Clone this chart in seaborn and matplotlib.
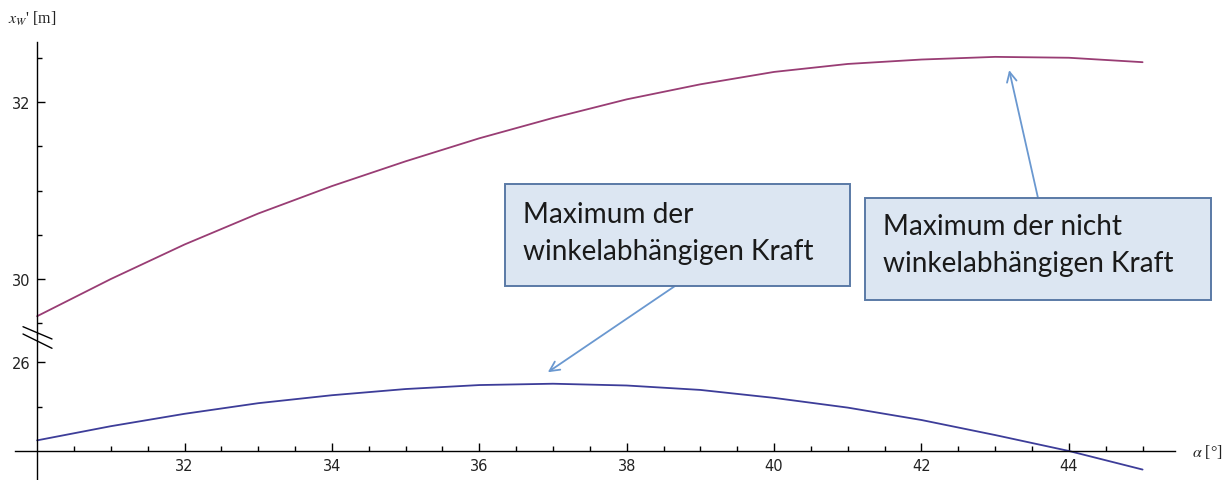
import matplotlib.pyplot as plt
from matplotlib.lines import Line2D
from matplotlib.patches import Rectangle
from matplotlib.ticker import FixedLocator
import seaborn as sns

# alpha in degrees
alpha_deg = [30, 31, 32, 33, 34, 35, 36, 37, 38, 39, 40, 41, 42, 43, 44, 45]
# upper curve: maximum of the angle independent force
xw_nicht_winkel = [29.58, 30.00, 30.39, 30.74, 31.05, 31.33, 31.59, 31.82,
                   32.03, 32.20, 32.34, 32.43, 32.48, 32.51, 32.50, 32.45]
# lower curve: maximum of the angle dependent force
xw_winkel = [25.12, 25.28, 25.42, 25.54, 25.63, 25.70, 25.745, 25.76,
             25.74, 25.69, 25.60, 25.49, 25.35, 25.18, 25.00, 24.79]

x_major = [32, 34, 36, 38, 40, 42, 44]
x_minor = [30.5, 31, 31.5, 32.5, 33, 33.5, 34.5, 35, 35.5, 36.5, 37, 37.5,
           38.5, 39, 39.5, 40.5, 41, 41.5, 42.5, 43, 43.5, 44.5, 45]
y_top_major = [30, 32]
y_top_minor = [29.5, 30.5, 31, 31.5, 32.5]
y_bot_major = [26]
y_bot_minor = [25.5]

W, H = 1230, 481
BLUE = '#3D3D99'
PINK = '#993D74'
BOX_FILL = '#DCE6F2'
BOX_EDGE = '#5A7AA6'
ARROW = '#6A98D0'


def px_rect(left, top, right, bottom):
    """
    convert a pixel box (origin top left) into figure fractions
    """
    return [left / W, 1 - bottom / H, (right - left) / W, (bottom - top) / H]


def style_axis(ax) -> None:
    ax.set_facecolor('none')
    ax.spines['top'].set_visible(False)
    ax.spines['right'].set_visible(False)
    ax.spines['left'].set_position(('data', 30))
    for sp in ax.spines.values():
        sp.set_color('black')
        sp.set_linewidth(1.0)
    ax.tick_params(which='both', direction='in', color='black', width=1.0,
                   labelsize=10.5, labelcolor='#222222',
                   left=True, bottom=True)
    ax.tick_params(which='major', length=6)
    ax.tick_params(which='minor', length=3.8)
    ax.tick_params(axis='y', pad=5)
    ax.tick_params(axis='x', pad=5)
    ax.set_xlabel('')
    ax.set_ylabel('')
    ax.grid(False)


sns.set_style('white')
plt.rcParams['font.family'] = ['DejaVu Sans']
plt.rcParams['mathtext.fontset'] = 'stix'

fig = plt.figure(figsize=(12.3, 4.81), dpi=100)
ax_top = fig.add_axes(px_rect(15, 43, 1175, 335))
ax_bot = fig.add_axes(px_rect(15, 335, 1175, 481))

sns.lineplot(x=alpha_deg, y=xw_nicht_winkel, ax=ax_top, color=PINK, lw=1.3)
sns.lineplot(x=alpha_deg, y=xw_winkel, ax=ax_bot, color=BLUE, lw=1.3)

for ax in (ax_top, ax_bot):
    ax.set_xlim(29.70, 45.44)
    style_axis(ax)

ax_top.set_ylim(29.379, 32.678)
ax_bot.set_ylim(24.672, 26.322)

ax_top.spines['bottom'].set_visible(False)
ax_top.tick_params(axis='x', which='both', bottom=False, labelbottom=False)
ax_top.yaxis.set_major_locator(FixedLocator(y_top_major))
ax_top.yaxis.set_minor_locator(FixedLocator(y_top_minor))
ax_top.set_yticklabels([str(v) for v in y_top_major])

ax_bot.spines['bottom'].set_position(('data', 25))
ax_bot.xaxis.set_major_locator(FixedLocator(x_major))
ax_bot.xaxis.set_minor_locator(FixedLocator(x_minor))
ax_bot.set_xticklabels([str(v) for v in x_major])
ax_bot.yaxis.set_major_locator(FixedLocator(y_bot_major))
ax_bot.yaxis.set_minor_locator(FixedLocator(y_bot_minor))
ax_bot.set_yticklabels([str(v) for v in y_bot_major])

# axis break marks
for y0, y1 in [(327.7, 340.0), (335.0, 349.3)]:
    fig.add_artist(Line2D([23 / W, 52 / W], [1 - y0 / H, 1 - y1 / H],
                          transform=fig.transFigure, color='black', lw=1.0))

# axis labels in Mathematica style
fig.text(8 / W, 1 - 19 / H, r"$x_{W}$' [m]", fontsize=11.5, va='center',
         family='Liberation Serif', color='#222222')
fig.text(1192 / W, 1 - 452 / H, r"$\alpha$ [°]", fontsize=11.5, va='center',
         family='Liberation Serif', color='#222222')

# callout arrows
ax_bot.annotate('', xy=(36.93, 25.89), xycoords='data',
                xytext=(675, H - 287), textcoords='figure pixels',
                arrowprops=dict(arrowstyle='->,head_length=0.7,head_width=0.35',
                                color=ARROW, lw=1.3, shrinkA=0, shrinkB=0))
ax_top.annotate('', xy=(43.19, 32.36), xycoords='data',
                xytext=(1038, H - 199), textcoords='figure pixels',
                arrowprops=dict(arrowstyle='->,head_length=0.7,head_width=0.35',
                                color=ARROW, lw=1.3, shrinkA=0, shrinkB=0))

# callout boxes
callouts = [
    ((505, 185, 850, 287), 523, [223, 260],
     ['Maximum der', 'winkelabhängigen Kraft']),
    ((865, 199, 1211, 301), 883, [235, 272],
     ['Maximum der nicht', 'winkelabhängigen Kraft']),
]
for (x0, y0, x1, y1), tx, baselines, lines in callouts:
    fig.add_artist(Rectangle((x0 / W, 1 - y1 / H), (x1 - x0) / W, (y1 - y0) / H,
                             transform=fig.transFigure, facecolor=BOX_FILL,
                             edgecolor=BOX_EDGE, lw=1.4, zorder=5))
    for by, line in zip(baselines, lines):
        fig.text(tx / W, 1 - by / H, line, fontsize=20.2, family='Lato',
                 va='baseline', ha='left', color='#1A1A1A', zorder=6)

fig.savefig('out.png', dpi=100)
plt.close(fig)
